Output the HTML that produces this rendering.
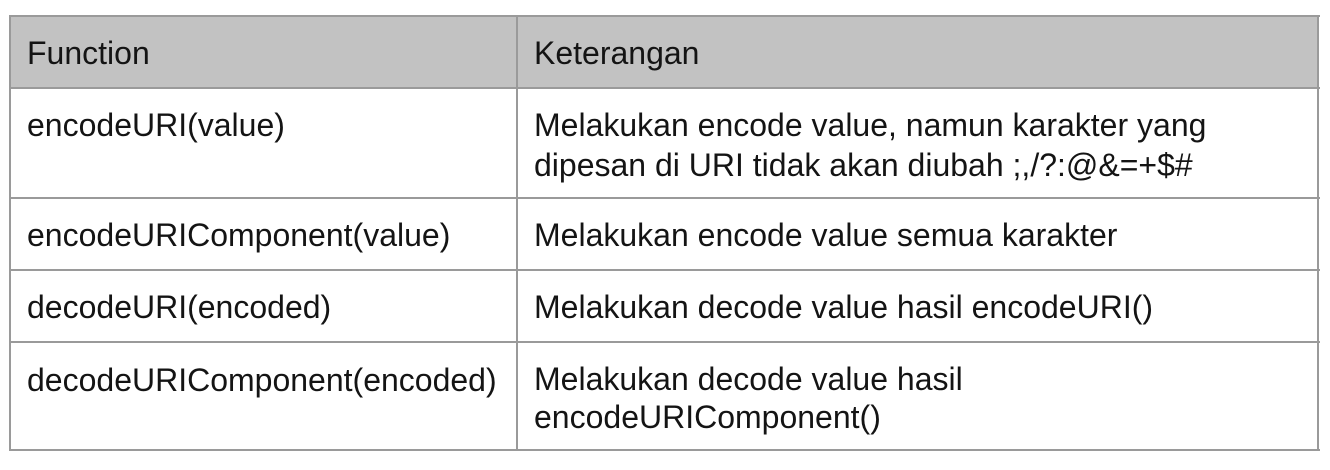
<!DOCTYPE html>
<html><head><meta charset="utf-8"><style>
body{margin:0;width:1330px;height:470px;background:#fff;position:relative;overflow:hidden;font-family:"Liberation Sans",Arial,sans-serif;color:#141414}
.l{position:absolute;background:#9a9a9a}
.t{position:absolute;font-size:32px;line-height:40px;white-space:nowrap}
</style></head><body>
<div style="position:absolute;left:10px;top:16px;width:1308px;height:72px;background:#c2c2c2"></div>
<div class="l" style="left:9px;top:15px;width:1311px;height:2px"></div>
<div class="l" style="left:9px;top:87px;width:1311px;height:2px"></div>
<div class="l" style="left:9px;top:197px;width:1311px;height:2px"></div>
<div class="l" style="left:9px;top:269px;width:1311px;height:2px"></div>
<div class="l" style="left:9px;top:341px;width:1311px;height:2px"></div>
<div class="l" style="left:9px;top:449px;width:1311px;height:2px"></div>
<div class="l" style="left:9px;top:15px;width:2px;height:436px"></div>
<div class="l" style="left:516px;top:15px;width:2px;height:436px"></div>
<div class="l" style="left:1317px;top:15px;width:2px;height:436px"></div>

<div class="t" style="left:27px;top:33px">Function</div>
<div class="t" style="left:534px;top:33px">Keterangan</div>
<div class="t" style="left:27px;top:105px">encodeURI(value)</div>
<div class="t" style="left:534px;top:105px">Melakukan encode value, namun karakter yang<br>dipesan di URI tidak akan diubah ;,/?:@&amp;=+$#</div>
<div class="t" style="left:27px;top:215px">encodeURIComponent(value)</div>
<div class="t" style="left:534px;top:215px">Melakukan encode value semua karakter</div>
<div class="t" style="left:27px;top:287px">decodeURI(encoded)</div>
<div class="t" style="left:534px;top:287px">Melakukan decode value hasil encodeURI()</div>
<div class="t" style="left:27px;top:360px">decodeURIComponent(encoded)</div>
<div class="t" style="left:534px;top:360px;line-height:38px">Melakukan decode value hasil<br>encodeURIComponent()</div>
</body></html>
